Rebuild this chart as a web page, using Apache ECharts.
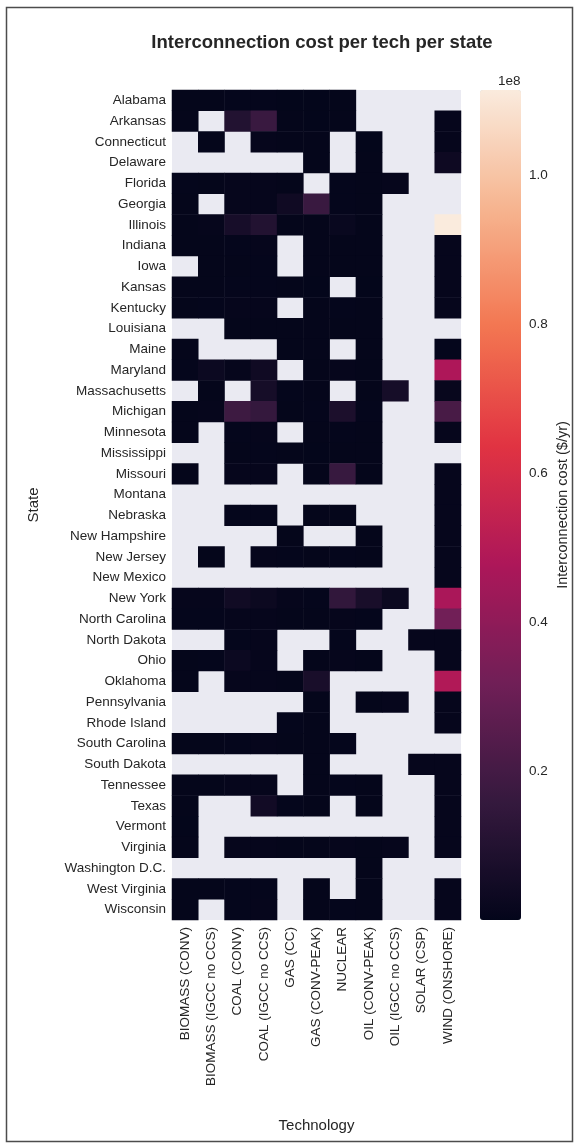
<!DOCTYPE html>
<html>
<head>
<meta charset="utf-8">
<script src="https://cdn.jsdelivr.net/npm/echarts@6/dist/echarts.min.js"></script>
<style>
  html, body { margin: 0; padding: 0; background: #ffffff; }
  #chart { width: 578px; height: 1147px; }
</style>
</head>
<body>
<div id="chart"></div>
<script>
// Technologies (columns) and states (rows)
const technologies = [
  'BIOMASS (CONV)', 'BIOMASS (IGCC no CCS)', 'COAL (CONV)', 'COAL (IGCC no CCS)',
  'GAS (CC)', 'GAS (CONV-PEAK)', 'NUCLEAR', 'OIL (CONV-PEAK)',
  'OIL (IGCC no CCS)', 'SOLAR (CSP)', 'WIND (ONSHORE)'
];
const states = [
  'Alabama', 'Arkansas', 'Connecticut', 'Delaware', 'Florida', 'Georgia', 'Illinois',
  'Indiana', 'Iowa', 'Kansas', 'Kentucky', 'Louisiana', 'Maine', 'Maryland',
  'Massachusetts', 'Michigan', 'Minnesota', 'Mississippi', 'Missouri', 'Montana',
  'Nebraska', 'New Hampshire', 'New Jersey', 'New Mexico', 'New York',
  'North Carolina', 'North Dakota', 'Ohio', 'Oklahoma', 'Pennsylvania',
  'Rhode Island', 'South Carolina', 'South Dakota', 'Tennessee', 'Texas',
  'Vermont', 'Virginia', 'Washington D.C.', 'West Virginia', 'Wisconsin'
];

// Interconnection cost ($/yr) per state, one array per technology (null = no data)
const biomassConv = [
  0.6e6, 0.5e6, null, null, 0.7e6, 0.5e6, 0.6e6, 0.6e6, null, 0.5e6,
  0.6e6, null, 0.5e6, 0.7e6, null, 0.6e6, 0.6e6, null, 0.6e6, null,
  null, null, null, null, 0.8e6, 0.7e6, null, 0.6e6, 0.5e6, null,
  null, 0.6e6, null, 0.6e6, 0.6e6, 0.4e6, 0.5e6, null, 0.6e6, 0.6e6
];
const biomassIgcc = [
  0.5e6, null, 0.6e6, null, 0.6e6, null, 0.8e6, 0.6e6, 0.6e6, 0.5e6,
  0.7e6, null, null, 3.0e6, 0.6e6, 0.8e6, null, null, null, null,
  null, null, 0.5e6, null, 0.9e6, 0.7e6, null, 0.7e6, null, null,
  null, 0.6e6, null, 0.6e6, null, null, null, null, 0.6e6, null
];
const coalConv = [
  0.7e6, 1.0e7, null, null, 0.8e6, 0.8e6, 6.5e6, 0.7e6, 0.6e6, 0.7e6,
  0.8e6, 0.6e6, null, 0.9e6, null, 1.8e7, 0.7e6, 0.6e6, 0.8e6, null,
  0.7e6, null, null, null, 4.6e6, 0.9e6, 0.7e6, 3.0e6, 0.8e6, null,
  null, 0.7e6, null, 0.8e6, null, null, 0.8e6, null, 0.7e6, 0.7e6
];
const coalIgcc = [
  0.7e6, 1.7e7, 0.8e6, null, 0.8e6, 0.9e6, 1.0e7, 0.8e6, 0.7e6, 0.7e6,
  0.8e6, 0.6e6, null, 4.0e6, 6.0e6, 1.55e7, 0.8e6, 0.7e6, 0.8e6, null,
  0.7e6, null, 0.8e6, null, 2.8e6, 0.9e6, 0.8e6, 1.0e6, 0.9e6, null,
  null, 0.8e6, null, 0.8e6, 4.8e6, null, 0.9e6, null, 0.7e6, 0.8e6
];
const gasCc = [
  0.4e6, 0.5e6, 0.5e6, null, 0.6e6, 4.0e6, 0.6e6, null, null, 0.5e6,
  null, 0.5e6, 0.6e6, null, 0.7e6, 0.6e6, null, 0.5e6, null, null,
  null, 0.6e6, 0.7e6, null, 0.8e6, 0.6e6, null, null, 0.6e6, null,
  0.7e6, 0.5e6, null, null, 0.7e6, null, 0.6e6, null, null, null
];
const gasConvPeak = [
  0.4e6, 0.4e6, 0.5e6, 0.5e6, null, 1.7e7, 0.6e6, 0.5e6, 0.5e6, 0.4e6,
  0.5e6, 0.5e6, 0.6e6, 0.6e6, 0.5e6, 0.7e6, 0.5e6, 0.4e6, 0.5e6, null,
  0.6e6, null, 0.6e6, null, 0.7e6, 0.5e6, null, 0.6e6, 7.0e6, 0.6e6,
  0.5e6, 0.5e6, 0.6e6, 0.5e6, 0.6e6, null, 0.5e6, null, 0.5e6, 0.5e6
];
const nuclear = [
  0.6e6, 0.6e6, null, null, 0.7e6, 0.7e6, 2.0e6, 0.6e6, 0.6e6, null,
  0.7e6, 0.6e6, null, 0.8e6, null, 8.0e6, 0.7e6, 0.6e6, 1.65e7, null,
  0.6e6, null, 0.7e6, null, 1.45e7, 0.8e6, 0.7e6, 0.8e6, null, null,
  null, 0.7e6, null, 0.7e6, null, null, 0.8e6, null, null, 0.7e6
];
const oilConvPeak = [
  null, null, 0.4e6, 0.5e6, 0.5e6, 0.6e6, 0.6e6, 0.5e6, 0.5e6, 0.4e6,
  0.5e6, 0.6e6, 0.5e6, 0.6e6, 0.5e6, 0.7e6, 0.5e6, 0.5e6, 0.6e6, null,
  null, 0.5e6, 0.6e6, null, 7.0e6, 0.7e6, null, 0.6e6, null, 0.6e6,
  null, null, null, 0.5e6, 0.6e6, null, 0.6e6, 0.5e6, 0.5e6, 0.6e6
];
const oilIgcc = [
  null, null, null, null, 0.8e6, null, null, null, null, null,
  null, null, null, null, 6.0e6, null, null, null, null, null,
  null, null, null, null, 2.8e6, null, null, null, null, 0.8e6,
  null, null, null, null, null, null, 0.9e6, null, null, null
];
const solarCsp = [
  null, null, null, null, null, null, null, null, null, null,
  null, null, null, null, null, null, null, null, null, null,
  null, null, null, null, null, null, 0.9e6, null, null, null,
  null, null, 0.8e6, null, null, null, null, null, null, null
];
const windOnshore = [
  null, 1.0e6, 1.1e6, 3.5e6, null, null, 1.115e8, 0.8e6, 0.9e6, 0.8e6,
  0.9e6, null, 0.7e6, 4.8e7, 1.5e6, 2.1e7, 0.8e6, null, 0.9e6, 1.0e6,
  0.9e6, 1.0e6, 1.1e6, 0.9e6, 4.7e7, 3.2e7, 1.0e6, 1.0e6, 4.9e7, 0.9e6,
  0.8e6, null, 1.1e6, 0.9e6, 1.0e6, 0.8e6, 1.0e6, null, 0.9e6, 0.9e6
];

const columns = [
  biomassConv, biomassIgcc, coalConv, coalIgcc, gasCc, gasConvPeak,
  nuclear, oilConvPeak, oilIgcc, solarCsp, windOnshore
];

// Colorbar tick values (in units of 1e8)
const colorbarTicks = [0.2, 0.4, 0.6, 0.8, 1.0];
const colorMax = 1.115e8;

// Rocket-style sequential palette, evenly spaced stops
const rocket = ['#03051a', '#35193e', '#701f57', '#ad1759', '#e13342', '#f37651', '#f6b48f', '#faebdd'];

const cells = [];
columns.forEach((col, x) => {
  col.forEach((v, y) => {
    if (v !== null) cells.push([x, y, v]);
  });
});

const FONT = "'Liberation Sans', Arial, sans-serif";
const TXT = '#262626';

const chart = echarts.init(document.getElementById('chart'), null, { renderer: 'canvas' });

chart.setOption({
  backgroundColor: '#ffffff',
  animation: false,
  textStyle: { fontFamily: FONT },
  title: {
    text: 'Interconnection cost per tech per state',
    left: 317, top: 28, textAlign: 'center',
    textStyle: { fontFamily: FONT, fontSize: 18.5, fontWeight: 'bold', color: TXT }
  },
  grid: [
    { left: 172, right: 117, top: 90, bottom: 227, show: true, backgroundColor: '#eaeaf2', borderWidth: 0 },
    { left: 480, width: 41, top: 90, bottom: 227, show: false }
  ],
  xAxis: [
    {
      type: 'category', gridIndex: 0, data: technologies,
      axisLine: { show: false }, axisTick: { show: false }, splitLine: { show: false },
      axisLabel: { rotate: 90, fontSize: 13.5, color: TXT, margin: 7, fontFamily: FONT, interval: 0 },
      name: 'Technology', nameLocation: 'middle', nameGap: 198,
      nameTextStyle: { fontSize: 15, color: TXT, fontFamily: FONT }
    },
    { type: 'value', gridIndex: 1, show: false, min: 0, max: 1 }
  ],
  yAxis: [
    {
      type: 'category', gridIndex: 0, data: states, inverse: true,
      axisLine: { show: false }, axisTick: { show: false }, splitLine: { show: false },
      axisLabel: { fontSize: 13.5, color: TXT, margin: 6, fontFamily: FONT, interval: 0 },
      name: 'State', nameLocation: 'middle', nameGap: 131, nameRotate: 90,
      nameTextStyle: { fontSize: 15, color: TXT, fontFamily: FONT }
    },
    {
      type: 'value', gridIndex: 1, position: 'right', min: 0, max: colorMax, interval: 0.2e8,
      axisLine: { show: false }, axisTick: { show: false }, splitLine: { show: false },
      axisLabel: {
        fontSize: 13.5, color: TXT, margin: 8, fontFamily: FONT,
        showMinLabel: false, showMaxLabel: false,
        formatter: v => {
          const t = v / 1e8;
          return colorbarTicks.some(c => Math.abs(c - t) < 1e-6) ? t.toFixed(1) : '';
        }
      },
      name: 'Interconnection cost ($/yr)', nameLocation: 'middle', nameGap: 34, nameRotate: 90,
      nameTextStyle: { fontSize: 14.5, color: TXT, fontFamily: FONT }
    }
  ],
  visualMap: {
    type: 'continuous',
    min: 0, max: colorMax,
    seriesIndex: 0,
    orient: 'vertical',
    left: 480, top: 90,
    itemWidth: 41, itemHeight: 830,
    padding: 0,
    text: ['', ''],
    showLabel: false,
    calculable: false,
    hoverLink: false,
    inRange: { color: rocket }
  },
  graphic: [
    {
      type: 'text', left: 498, top: 74,
      style: { text: '1e8', fontSize: 13.5, fill: TXT, fontFamily: FONT }
    },
    {
      type: 'rect', silent: true, z: -1,
      shape: { x: 6.5, y: 7.5, width: 566, height: 1134 },
      style: { fill: 'none', stroke: '#4d4d4d', lineWidth: 1.5 }
    }
  ],
  series: [
    {
      type: 'heatmap', xAxisIndex: 0, yAxisIndex: 0,
      data: cells,
      itemStyle: { borderWidth: 0 },
      emphasis: { disabled: true }
    }
  ]
});
</script>
</body>
</html>
